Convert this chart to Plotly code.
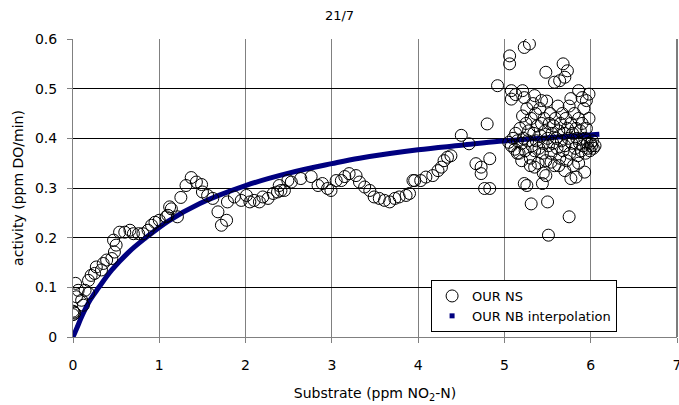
import plotly.graph_objects as go

# ---- measured points: OUR NS (substrate ppm NO2-N, activity ppm DO/min)
ns_s = [0.00, 0.01, 0.02, 0.00, 0.03, 0.06, 0.04, 0.10, 0.14, 0.12, 0.18, 0.18, 0.21, 0.25, 0.27,
        0.33, 0.35, 0.39, 0.45, 0.48, 0.50, 0.47, 0.54, 0.60, 0.66, 0.70, 0.76, 0.81, 0.87, 0.91,
        0.95, 1.00, 1.08, 1.10, 1.14, 1.12, 1.21, 1.25, 1.31, 1.37, 1.43, 1.49, 1.50, 1.56, 1.62,
        1.68, 1.78, 1.72, 1.79, 1.87, 1.95, 2.01, 2.05, 2.10, 2.16, 2.20, 2.26, 2.32, 2.37, 2.39,
        2.41, 2.45, 2.49, 2.53, 2.64, 2.76, 2.84, 2.89, 2.95, 2.99, 3.05, 3.11, 3.15, 3.20, 3.28,
        3.32, 3.38, 3.44, 3.49, 3.55, 3.61, 3.67, 3.73, 3.78, 3.86, 3.90, 3.94, 3.96, 4.03, 4.09,
        4.17, 4.23, 4.27, 4.30, 4.34, 4.38, 4.50, 4.59, 4.67, 4.73, 4.73, 4.83, 4.77, 4.83, 4.80,
        4.92,
        5.06, 5.06, 5.23, 5.29, 5.08, 5.08, 5.21, 5.23, 5.13, 5.68, 5.48, 5.73, 5.70, 5.64, 5.58,
        5.35, 5.43, 5.98, 5.95, 5.86, 5.90, 5.77,
        5.23, 5.26, 5.44, 5.31, 5.50, 5.75, 5.51, 5.77, 5.83, 5.93, 5.35, 5.48, 5.45, 5.54, 5.63,
        5.70, 5.86,
        5.05, 5.08, 5.10, 5.12, 5.13, 5.15, 5.17, 5.18, 5.20, 5.21, 5.22, 5.24, 5.25, 5.26, 5.27,
        5.28, 5.30, 5.31, 5.32, 5.33, 5.34, 5.35, 5.36, 5.37, 5.38, 5.39, 5.40, 5.41, 5.42, 5.43,
        5.44, 5.45, 5.46, 5.47, 5.48, 5.49, 5.50, 5.51, 5.52, 5.53, 5.54, 5.55, 5.56, 5.57, 5.58,
        5.59, 5.60, 5.61, 5.62, 5.63, 5.64, 5.65, 5.66, 5.67, 5.68, 5.69, 5.70, 5.71, 5.72, 5.73,
        5.74, 5.75, 5.76, 5.77, 5.78, 5.79, 5.80, 5.81, 5.82, 5.83, 5.84, 5.85, 5.86, 5.87, 5.88,
        5.89, 5.90, 5.91, 5.92, 5.93, 5.94, 5.95, 5.96, 5.97, 5.98, 5.99, 6.00, 6.01, 6.02, 6.03,
        6.05, 5.15, 5.20, 5.30]
ns_v = [0.045, 0.050, 0.048, 0.052, 0.108, 0.094, 0.081, 0.074, 0.094, 0.064, 0.088, 0.114, 0.124, 0.128, 0.141,
        0.135, 0.148, 0.155, 0.158, 0.171, 0.185, 0.195, 0.211, 0.211, 0.215, 0.208, 0.208, 0.208, 0.215, 0.225,
        0.231, 0.235, 0.242, 0.245, 0.258, 0.262, 0.242, 0.281, 0.305, 0.321, 0.312, 0.307, 0.292, 0.285, 0.279,
        0.252, 0.235, 0.225, 0.272, 0.282, 0.275, 0.285, 0.272, 0.275, 0.272, 0.282, 0.279, 0.289, 0.292, 0.305,
        0.295, 0.295, 0.315, 0.312, 0.319, 0.323, 0.305, 0.309, 0.299, 0.295, 0.315, 0.315, 0.323, 0.329, 0.325,
        0.312, 0.302, 0.295, 0.282, 0.279, 0.275, 0.272, 0.279, 0.282, 0.285, 0.289, 0.315, 0.315, 0.315, 0.322,
        0.325, 0.335, 0.342, 0.355, 0.362, 0.365, 0.406, 0.389, 0.349, 0.342, 0.329, 0.359, 0.299, 0.299, 0.429,
        0.506,
        0.566, 0.550, 0.583, 0.590, 0.496, 0.479, 0.496, 0.482, 0.488, 0.550, 0.533, 0.536, 0.523, 0.516, 0.513,
        0.486, 0.476, 0.489, 0.476, 0.496, 0.482, 0.480,
        0.309, 0.305, 0.309, 0.268, 0.272, 0.242, 0.205, 0.319, 0.322, 0.332, 0.342, 0.325, 0.330, 0.352, 0.345,
        0.335, 0.350,
        0.392, 0.385, 0.400, 0.378, 0.410, 0.395, 0.370, 0.420, 0.390, 0.445, 0.400, 0.375, 0.430, 0.460, 0.395,
        0.415, 0.360, 0.440, 0.385, 0.470, 0.410, 0.375, 0.450, 0.395, 0.425, 0.350, 0.380, 0.460, 0.405, 0.430,
        0.370, 0.390, 0.440, 0.415, 0.355, 0.475, 0.400, 0.385, 0.430, 0.450, 0.370, 0.410, 0.390, 0.425, 0.345,
        0.440, 0.400, 0.380, 0.465, 0.415, 0.360, 0.430, 0.395, 0.450, 0.375, 0.410, 0.385, 0.440, 0.355, 0.420,
        0.400, 0.465, 0.370, 0.430, 0.390, 0.410, 0.345, 0.450, 0.380, 0.420, 0.400, 0.365, 0.440, 0.390, 0.415,
        0.375, 0.430, 0.385, 0.460, 0.400, 0.370, 0.420, 0.390, 0.380, 0.440, 0.375, 0.390, 0.385, 0.395, 0.380,
        0.385, 0.370, 0.355, 0.345]

# ---- interpolation curve
nb_s = [0.00, 0.05, 0.10, 0.20, 0.30, 0.45, 0.64, 0.83, 1.10, 1.47, 2.00, 2.50, 3.00, 3.32, 4.00,
        4.50, 4.94, 5.50, 6.10]
nb_v = [0.000, 0.020, 0.041, 0.075, 0.100, 0.135, 0.170, 0.198, 0.233, 0.269, 0.305, 0.330, 0.349, 0.360, 0.377,
        0.386, 0.394, 0.401, 0.408]

FONT = "DejaVu Sans"
NAVY = "#000080"

fig = go.Figure()
fig.add_trace(go.Scatter(
    x=nb_s, y=nb_v, mode="lines", line=dict(color=NAVY, width=5, shape="spline"),
    showlegend=False, hoverinfo="skip"))
fig.add_trace(go.Scatter(
    x=ns_s, y=ns_v, mode="markers", name="OUR NS",
    marker=dict(symbol="circle-open", size=12, color="black", line=dict(width=1, color="black"))))
fig.add_trace(go.Scatter(
    x=[None], y=[None], mode="markers", name="OUR NB interpolation",
    marker=dict(symbol="square", size=5, color=NAVY)))

fig.update_layout(
    width=679, height=405,
    margin=dict(l=73, r=2, t=39, b=68),
    paper_bgcolor="white", plot_bgcolor="white",
    font=dict(family=FONT, color="black", size=14),
    title=dict(text="21/7", x=0.5, xanchor="center", y=0.963, yanchor="middle",
               font=dict(family=FONT, size=13, color="black")),
    showlegend=True,
    legend=dict(x=0.9008, xanchor="right", y=0.0168, yanchor="bottom",
                bgcolor="white", bordercolor="black", borderwidth=1,
                font=dict(family=FONT, size=13, color="black"),
                itemwidth=30, tracegroupgap=0),
    shapes=[dict(type="line", xref="paper", yref="paper", x0=1, x1=1, y0=0, y1=1,
                 line=dict(color="#505050", width=1.5), layer="above")],
)
fig.update_xaxes(
    range=[0, 7], dtick=1, tick0=0, showgrid=True, gridcolor="#808080", gridwidth=1,
    zeroline=False, showline=True, linecolor="#808080", linewidth=1,
    ticks="outside", ticklen=5, tickcolor="#808080", ticklabelstandoff=10,
    ticklabeloverflow="allow", automargin=False,
    tickfont=dict(family=FONT, size=14, color="black"),
    title=dict(text="Substrate (ppm NO<sub>2</sub>-N)", standoff=16,
               font=dict(family=FONT, size=14, color="black")))
fig.update_yaxes(
    range=[0, 0.6], dtick=0.1, tick0=0, showgrid=True, gridcolor="black", gridwidth=1,
    zeroline=False, showline=True, linecolor="#808080", linewidth=1,
    ticks="outside", ticklen=5, tickcolor="#808080", ticklabelstandoff=7,
    tickformat="~g", automargin=False,
    tickfont=dict(family=FONT, size=14, color="black"),
    title=dict(text="activity (ppm DO/min)", standoff=8,
               font=dict(family=FONT, size=14, color="black")))

fig.write_html("out.html")
